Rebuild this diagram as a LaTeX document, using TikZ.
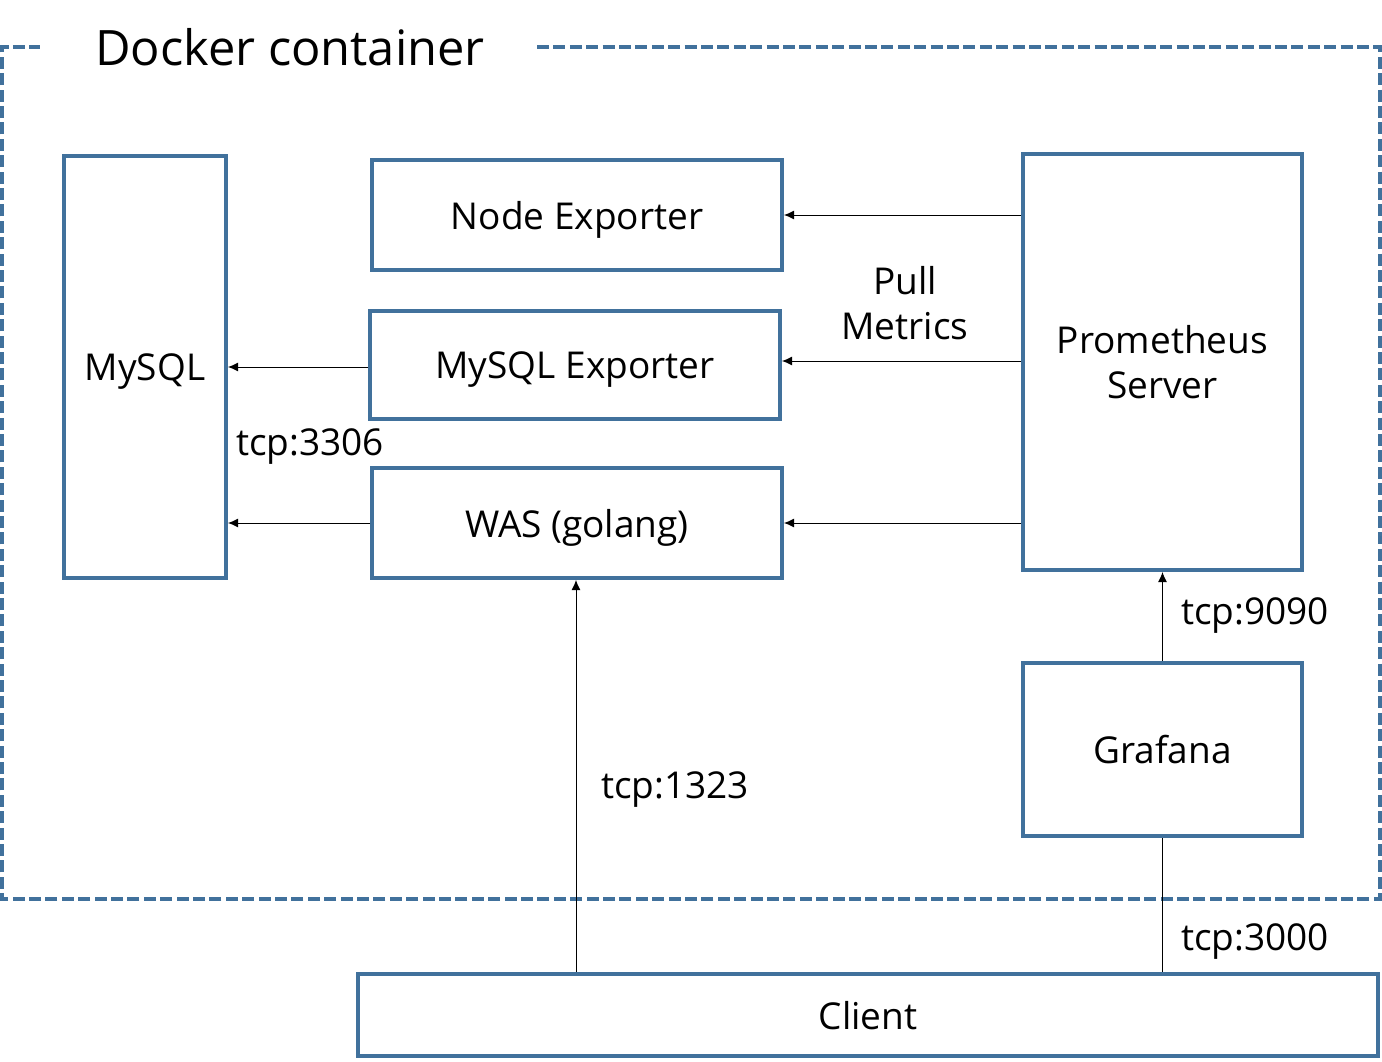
\documentclass[tikz,border=0pt]{standalone}
\usepackage{fontspec}
\setmainfont{Open Sans}
\usepackage{xcolor}
\usetikzlibrary{arrows.meta}
\definecolor{boxblue}{HTML}{41719C}

\begin{document}
\begin{tikzpicture}[x=0.5pt,y=-0.5pt,
    box/.style={draw=boxblue,line width=2pt,inner sep=0pt,font=\fontsize{18.5}{22.5}\selectfont,align=center,text depth=0pt},
    lbl/.style={inner sep=0pt,font=\fontsize{18.5}{22.5}\selectfont,align=center,text depth=0pt},
    link/.style={line width=0.5pt,-{Latex[length=5pt,width=4.5pt]}}]
    \useasboundingbox (0,0) rectangle (1382,1061);
    % container
    \draw[boxblue,line width=2pt,dash pattern=on 6pt off 2.2pt] (537,47) -- (1380,47) -- (1380,899) -- (2,899) -- (2,47) -- (40,47);
    \node[lbl,font=\fontsize{24.4}{28}\selectfont] (title) at (290,47) {Docker container};
    % boxes
    \node[box,minimum width=81pt,minimum height=211pt] (mysql) at (145,367) {MySQL};
    \node[box,minimum width=205pt,minimum height=55pt] (nodeexp) at (577,215) {Node Exporter};
    \node[box,minimum width=205pt,minimum height=54pt] (mysqlexp) at (575,365) {MySQL Exporter};
    \node[box,minimum width=205pt,minimum height=55pt] (was) at (577,523) {WAS (golang)};
    \node[box,minimum width=139.5pt,minimum height=208pt,text depth=] (prom) at (1162.5,362) {Prometheus\\Server};
    \node[box,minimum width=139.5pt,minimum height=86.5pt] (grafana) at (1162.5,749.5) {Grafana};
    \node[box,minimum width=510pt,minimum height=41pt] (client) at (868,1015) {Client};
    % labels
    \node[lbl,text depth=] (pull) at (905,303) {Pull\\Metrics};
    \node[lbl] (p3306) at (310,442) {tcp:3306};
    \node[lbl] (p1323) at (675,785) {tcp:1323};
    \node[lbl] (p9090) at (1255,611) {tcp:9090};
    \node[lbl] (p3000) at (1255,937) {tcp:3000};
    % connectors
    \draw[link] (prom.west |- nodeexp.east) to (nodeexp.east);
    \draw[link] (prom.west |- 0,361) to (mysqlexp.east |- 0,361);
    \draw[link] (prom.west |- was.east) to (was.east);
    \draw[link] (mysqlexp.west |- 0,367) to (mysql.east |- 0,367);
    \draw[link] (was.west) to (was.west -| mysql.east);
    \draw[link] (client.north -| 576,0) to (was.south -| 576,0);
    \draw[link] (grafana.north) to (prom.south);
    \draw[line width=0.5pt] (grafana.south) to (grafana.south |- client.north);
\end{tikzpicture}
\end{document}
